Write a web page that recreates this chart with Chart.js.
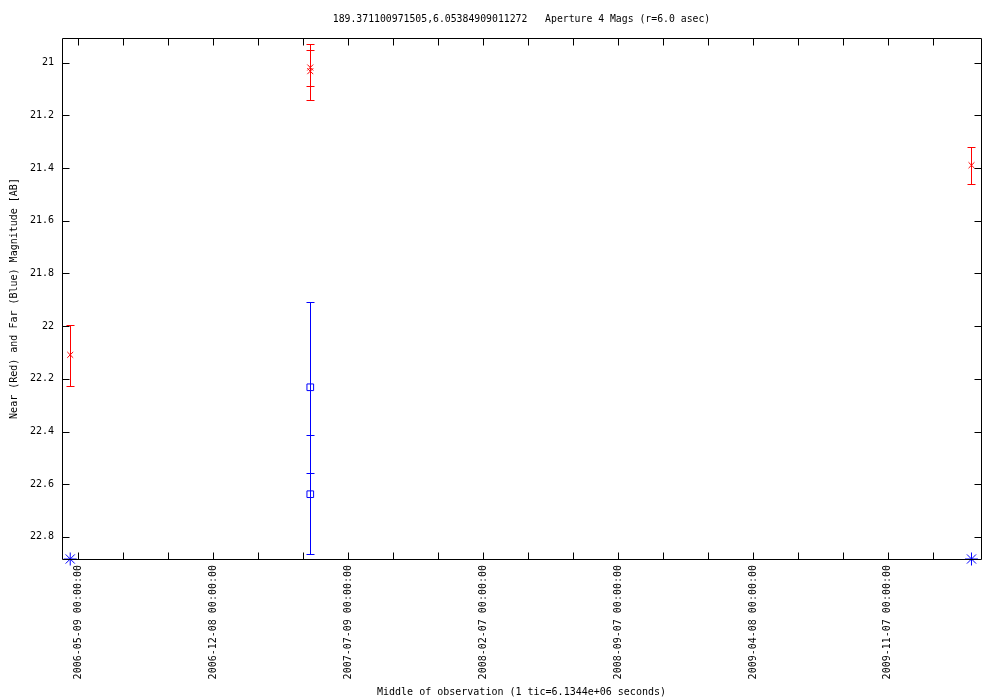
<!DOCTYPE html>
<html>
<head>
<meta charset="utf-8">
<style>
  html, body { margin: 0; padding: 0; background: #fff; }
  #wrap { width: 1000px; height: 700px; }
</style>
</head>
<body>
<div id="wrap"><canvas id="myChart" width="1000" height="700"></canvas></div>
<script src="https://cdn.jsdelivr.net/npm/chart.js@4.4.1/dist/chart.umd.min.js"></script>
<script>
// values
const titleText = '189.371100971505,6.05384909011272   Aperture 4 Mags (r=6.0 asec)';
const xTitle = 'Middle of observation (1 tic=6.1344e+06 seconds)';
const yTitle = 'Near (Red) and Far (Blue) Magnitude [AB]';

// near (red) magnitudes, errors towards brighter (up) and fainter (down)
const nearDates = ['2006-04-26', '2007-05-10', '2007-05-10', '2010-03-19'];
const nearMags = [22.109, 21.018, 21.032, 21.389];
const nearErrUp = [0.113, 0.091, 0.080, 0.070];
const nearErrDown = [0.119, 0.125, 0.057, 0.071];

// far (blue) magnitudes with errors
const farDates = ['2007-05-10', '2007-05-10'];
const farMags = [22.232, 22.638];
const farErrUp = [0.323, 0.223];
const farErrDown = [0.325, 0.226];

// blue asterisks sitting on the bottom edge
const limitDates = ['2006-04-26', '2010-03-19'];
const limitMags = [22.884, 22.884];

const yTicks = [21, 21.2, 21.4, 21.6, 21.8, 22, 22.2, 22.4, 22.6, 22.8];
const xTickStart = '2006-05-09';
const xTickDays = 71;   // 1 tic = 6.1344e+06 s
const xTickCount = 20;
const xLabelEvery = 3;

const xMin = '2006-04-13', xMax = '2010-04-03';
const yMin = 20.906, yMax = 22.884;

const RED = '#ff0000', BLUE = '#0000ff';
const FONT = "'DejaVu Sans Mono', 'Liberation Mono', monospace";

function day(s) { return Date.parse(s + 'T00:00:00Z') / 86400000; }
function fmtDay(v) { return new Date(Math.round(v) * 86400000).toISOString().slice(0, 10) + ' 00:00:00'; }
function pts(dates, mags) { return dates.map((d, i) => ({ x: day(d), y: mags[i] })); }

Chart.defaults.font.family = FONT;
Chart.defaults.font.size = 10;
Chart.defaults.color = '#000';

const errorBars = {
  id: 'errorBars',
  afterDatasetsDraw(chart) {
    const ctx = chart.ctx, xs = chart.scales.x, ys = chart.scales.y;
    chart.data.datasets.forEach(ds => {
      if (!ds.errUp) return;
      ctx.save();
      ctx.strokeStyle = ds.borderColor;
      ctx.lineWidth = 1;
      ds.data.forEach((p, i) => {
        const px = Math.round(xs.getPixelForValue(p.x)) + 0.5;
        const y1 = Math.round(ys.getPixelForValue(p.y - ds.errUp[i])) + 0.5;
        const y2 = Math.round(ys.getPixelForValue(p.y + ds.errDown[i])) + 0.5;
        ctx.beginPath();
        ctx.moveTo(px, y1); ctx.lineTo(px, y2);
        ctx.moveTo(px - 4, y1); ctx.lineTo(px + 4, y1);
        ctx.moveTo(px - 4, y2); ctx.lineTo(px + 4, y2);
        ctx.stroke();
      });
      ctx.restore();
    });
  }
};

const frame = {
  id: 'frame',
  afterDraw(chart) {
    const ctx = chart.ctx, a = chart.chartArea;
    const xs = chart.scales.x, ys = chart.scales.y;
    const L = Math.round(a.left) + 0.5, R = Math.round(a.right) + 0.5;
    const T = Math.round(a.top) + 0.5, B = Math.round(a.bottom) + 0.5;
    ctx.save();
    ctx.strokeStyle = '#000';
    ctx.lineWidth = 1;
    ctx.beginPath();
    ctx.rect(L, T, R - L, B - T);
    xs.ticks.forEach(t => {
      const px = Math.round(xs.getPixelForValue(t.value)) + 0.5;
      ctx.moveTo(px, B); ctx.lineTo(px, B - 7);
      ctx.moveTo(px, T); ctx.lineTo(px, T + 7);
    });
    ys.ticks.forEach(t => {
      const py = Math.round(ys.getPixelForValue(t.value)) + 0.5;
      ctx.moveTo(L, py); ctx.lineTo(L + 7, py);
      ctx.moveTo(R, py); ctx.lineTo(R - 7, py);
    });
    ctx.stroke();
    ctx.fillStyle = '#000';
    ctx.font = '9.8px ' + FONT;
    ctx.textAlign = 'center';
    ctx.textBaseline = 'middle';
    ctx.fillText(titleText, (a.left + a.right) / 2, 19);
    ctx.restore();
  }
};

const ctx = document.getElementById('myChart');

const chart = new Chart(ctx, {
  type: 'scatter',
  data: {
    datasets: [{
      label: 'near',
      data: pts(nearDates, nearMags),
      errUp: nearErrUp,
      errDown: nearErrDown,
      pointStyle: 'crossRot',
      radius: 4.2,
      borderColor: RED,
      borderWidth: 1
    }, {
      label: 'far',
      data: pts(farDates, farMags),
      errUp: farErrUp,
      errDown: farErrDown,
      pointStyle: 'rect',
      radius: 4.7,
      borderColor: BLUE,
      backgroundColor: 'rgba(0,0,0,0)',
      borderWidth: 1
    }, {
      label: 'limit',
      data: pts(limitDates, limitMags),
      pointStyle: 'star',
      radius: 6.5,
      borderColor: BLUE,
      borderWidth: 1,
      clip: false
    }]
  },
  options: {
    responsive: false,
    animation: false,
    layout: { padding: { left: 0, top: 38, right: 19, bottom: 0 } },
    plugins: { legend: { display: false }, tooltip: { enabled: false } },
    scales: {
      x: {
        type: 'linear',
        min: day(xMin),
        max: day(xMax),
        grid: { display: false, drawTicks: false },
        border: { display: false },
        afterBuildTicks: s => {
          const t0 = day(xTickStart);
          s.ticks = [];
          for (let k = 0; k < xTickCount; k++) s.ticks.push({ value: t0 + k * xTickDays });
        },
        afterFit: s => { s.height = 141; },
        ticks: {
          autoSkip: false,
          minRotation: 90,
          maxRotation: 90,
          padding: 6,
          callback: (v, i) => (i % xLabelEvery === 0 ? fmtDay(v) : '')
        },
        title: { display: true, text: xTitle, padding: { top: 0, bottom: 2 } }
      },
      y: {
        type: 'linear',
        reverse: true,
        min: yMin,
        max: yMax,
        grid: { display: false, drawTicks: false },
        border: { display: false },
        afterBuildTicks: s => { s.ticks = yTicks.map(v => ({ value: v })); },
        afterFit: s => { s.width = 62; },
        ticks: { padding: 8, callback: v => String(v) },
        title: { display: true, text: yTitle, padding: { top: 8, bottom: 0 } }
      }
    }
  },
  plugins: [errorBars, frame]
});
</script>
</body>
</html>
